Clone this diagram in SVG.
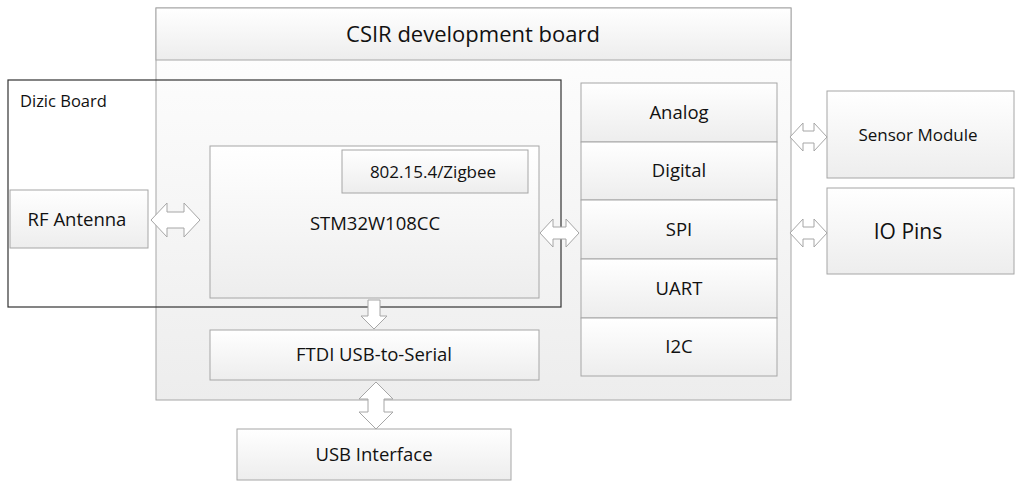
<svg xmlns="http://www.w3.org/2000/svg" width="1024" height="487" viewBox="0 0 1024 487">
<defs>
<linearGradient id="g" x1="0" y1="0" x2="0" y2="1"><stop offset="0" stop-color="#ffffff"/><stop offset="1" stop-color="#ededed"/></linearGradient>
<style>
.b{fill:url(#g);stroke:#a6a6a6;stroke-width:1}
.t{font-family:"Open Sans","Liberation Sans",sans-serif;fill:#111;text-anchor:middle}
.a{fill:#fff;stroke:#a6a6a6;stroke-width:1}
</style>
</defs>
<rect width="1024" height="487" fill="#fff"/>
<g id="csir"><rect class="b" x="156" y="8" width="635" height="392" fill="#f7f7f7"/><rect class="b" x="156" y="8" width="635" height="52"/><text class="t" x="473" y="42" font-size="22">CSIR development board</text></g>
<g id="dizic"><rect x="8" y="80" width="553" height="227" fill="none" stroke="#333" stroke-width="1.2"/><text class="t" x="20" y="107" font-size="16.5" style="text-anchor:start">Dizic Board</text></g>
<g id="rf"><rect class="b" x="10" y="190" width="138" height="58"/><text class="t" x="77" y="226" font-size="18.5">RF Antenna</text></g>
<g id="stm"><rect class="b" x="210" y="146" width="329" height="152"/><text class="t" x="375" y="230" font-size="18.5">STM32W108CC</text></g>
<g id="zig"><rect class="b" x="342" y="150" width="186" height="43"/><text class="t" x="433" y="178" font-size="17">802.15.4/Zigbee</text></g>
<g id="ftdi"><rect class="b" x="210" y="330" width="329" height="50"/><text class="t" x="374" y="361" font-size="18.5">FTDI USB-to-Serial</text></g>
<g id="usb"><rect class="b" x="237" y="429" width="274" height="51"/><text class="t" x="374" y="461" font-size="18.5">USB Interface</text></g>
<g id="analog"><rect class="b" x="581" y="83" width="196" height="59"/><text class="t" x="679" y="119" font-size="18.5">Analog</text></g>
<g id="digital"><rect class="b" x="581" y="142" width="196" height="58"/><text class="t" x="679" y="177" font-size="18.5">Digital</text></g>
<g id="spi"><rect class="b" x="581" y="200" width="196" height="59"/><text class="t" x="679" y="236" font-size="18.5">SPI</text></g>
<g id="uart"><rect class="b" x="581" y="259" width="196" height="59"/><text class="t" x="679" y="295" font-size="18.5">UART</text></g>
<g id="i2c"><rect class="b" x="581" y="318" width="196" height="58"/><text class="t" x="679" y="353" font-size="18.5">I2C</text></g>
<g id="sensor"><rect class="b" x="827" y="91" width="187" height="87"/><text class="t" x="918" y="141" font-size="17">Sensor Module</text></g>
<g id="io"><rect class="b" x="827" y="188" width="187" height="86"/><text class="t" x="908" y="239" font-size="21">IO Pins</text></g>
<g id="connectors">
<path class="a" d="M151,220 L167,203 L167,212 L184,212 L184,203 L200,220 L184,237 L184,228 L167,228 L167,237 Z"/>
<path class="a" d="M540,233 L553,219 L553,227 L566,227 L566,219 L579,233 L566,247 L566,239 L553,239 L553,247 Z"/>
<path class="a" d="M790,137 L803,123 L803,131 L814,131 L814,123 L827,137 L814,151 L814,143 L803,143 L803,151 Z"/>
<path class="a" d="M790,233 L803,219 L803,227 L814,227 L814,219 L827,233 L814,247 L814,239 L803,239 L803,247 Z"/>
<path class="a" d="M368,300 L380,300 L380,316 L387,316 L374,329 L361,316 L368,316 Z"/>
<path class="a" d="M376,382 L393,399 L384,399 L384,412 L393,412 L376,429 L359,412 L368,412 L368,399 L359,399 Z"/>
</g>
</svg>
